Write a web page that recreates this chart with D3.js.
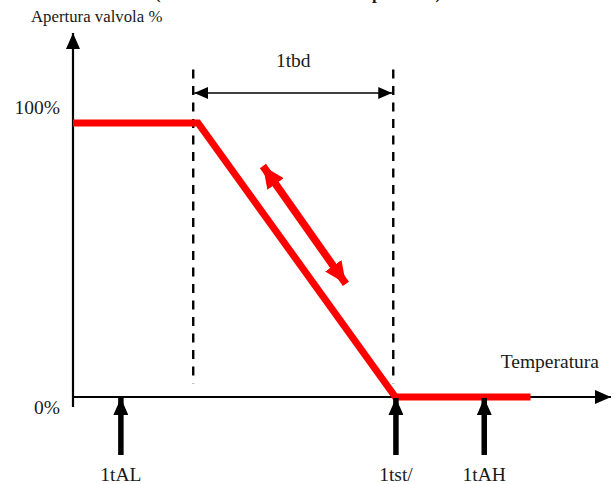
<!DOCTYPE html>
<html lang="it">
<head>
<meta charset="utf-8">
<title>Apertura valvola</title>
<script src="https://d3js.org/d3.v7.min.js"></script>
<style>
  body { margin: 0; background: #fff; }
</style>
</head>
<body>
<script>
// valve curve (temperature units 0..100, opening %)
var curveTemp = [0, 23.5, 60.6, 86];
var curveOpen = [100, 100, 0, 0];

// dashed limits of the proportional band
var bandTemp = [22.6, 60.2];
var bandOpen = [5, 119.5];
var bandLabel = "1tbd";

// set-point markers under the axis
var markerTemp = [9, 60.7, 77.3];
var markerLabel = ["1tAL", "1tst/", "1tAH"];

// y tick labels
var yTickValues = [100, 0];
var yTickLabels = ["100%", "0%"];

// red double arrow (temperature, opening)
var moveFrom = [35.7, 84.3];
var moveTo = [51.3, 41.3];

var width = 616, height = 484;
var serif = "'Liberation Serif'";
var ink = "#1a1a1a";

var x = d3.scaleLinear().domain([0, 100]).range([73, 605]);
var y = d3.scaleLinear().domain([0, 100]).range([397, 123]);

var svg = d3.select("body").append("svg")
    .attr("width", width)
    .attr("height", height);

var defs = svg.append("defs");
function head(id, color, w, h) {
  defs.append("marker")
      .attr("id", id)
      .attr("viewBox", "0 0 " + w + " " + h)
      .attr("refX", w).attr("refY", h / 2)
      .attr("markerWidth", w).attr("markerHeight", h)
      .attr("markerUnits", "userSpaceOnUse")
      .attr("orient", "auto-start-reverse")
    .append("path")
      .attr("d", "M0,0L" + w + "," + (h / 2) + "L0," + h + "Z")
      .attr("fill", color);
}
head("ax", "#000", 16, 14);
head("dim", "#000", 14, 12);
head("up", "#000", 17, 15);
head("red", "#ff0000", 22, 20);

function label(px, py, size, anchor, txt) {
  return svg.append("text")
      .attr("x", px).attr("y", py)
      .attr("font-family", serif)
      .attr("font-size", size)
      .attr("text-anchor", anchor)
      .attr("fill", ink)
      .text(txt);
}

// cut title at the very top
label(155, -1, 17, "start", "(Controllo della valvola in temperatura)")
    .attr("font-weight", "bold")
    .attr("textLength", 286);

// axes
svg.append("line")
    .attr("x1", x(0)).attr("y1", 407)
    .attr("x2", x(0)).attr("y2", 33)
    .attr("stroke", "#000").attr("stroke-width", 2.2)
    .attr("marker-end", "url(#ax)");
svg.append("line")
    .attr("x1", x(0)).attr("y1", y(0))
    .attr("x2", 611).attr("y2", y(0))
    .attr("stroke", "#000").attr("stroke-width", 2.2)
    .attr("marker-end", "url(#ax)");

label(31, 22, 16.8, "start", "Apertura valvola %");
label(599, 368, 19.5, "end", "Temperatura");

yTickValues.forEach(function(d, i) {
  label(60, y(d) + (d === 0 ? 17 : -9), 19.5, "end", yTickLabels[i]);
});

// dashed band limits
svg.selectAll(".band")
    .data(bandTemp)
  .enter().append("line")
    .attr("class", "band")
    .attr("x1", function(d) { return x(d); })
    .attr("x2", function(d) { return x(d); })
    .attr("y1", y(bandOpen[1]))
    .attr("y2", y(bandOpen[0]))
    .attr("stroke", "#000").attr("stroke-width", 2.4)
    .attr("stroke-dasharray", "9,7.5");

// band width dimension
svg.append("line")
    .attr("x1", x(bandTemp[0]) + 1).attr("x2", x(bandTemp[1]) - 1)
    .attr("y1", 93).attr("y2", 93)
    .attr("stroke", "#000").attr("stroke-width", 1.6)
    .attr("marker-start", "url(#dim)")
    .attr("marker-end", "url(#dim)");
label((x(bandTemp[0]) + x(bandTemp[1])) / 2, 67, 19.5, "middle", bandLabel);

// valve curve
var line = d3.line()
    .x(function(d) { return x(d[0]); })
    .y(function(d) { return y(d[1]); });
svg.append("path")
    .datum(d3.zip(curveTemp, curveOpen))
    .attr("d", line)
    .attr("fill", "none")
    .attr("stroke", "#ff0000")
    .attr("stroke-width", 7)
    .attr("stroke-linejoin", "miter");

// red double arrow
svg.append("line")
    .attr("x1", x(moveFrom[0])).attr("y1", y(moveFrom[1]))
    .attr("x2", x(moveTo[0])).attr("y2", y(moveTo[1]))
    .attr("stroke", "#ff0000").attr("stroke-width", 7.5)
    .attr("marker-start", "url(#red)")
    .attr("marker-end", "url(#red)");

// markers under axis
svg.selectAll(".mk")
    .data(markerTemp)
  .enter().append("line")
    .attr("class", "mk")
    .attr("x1", function(d) { return x(d); })
    .attr("x2", function(d) { return x(d); })
    .attr("y1", 455).attr("y2", y(0) + 1)
    .attr("stroke", "#000").attr("stroke-width", 5.5)
    .attr("marker-end", "url(#up)");
markerTemp.forEach(function(d, i) {
  label(x(d), 481, 19.5, "middle", markerLabel[i]);
});
</script>
</body>
</html>
